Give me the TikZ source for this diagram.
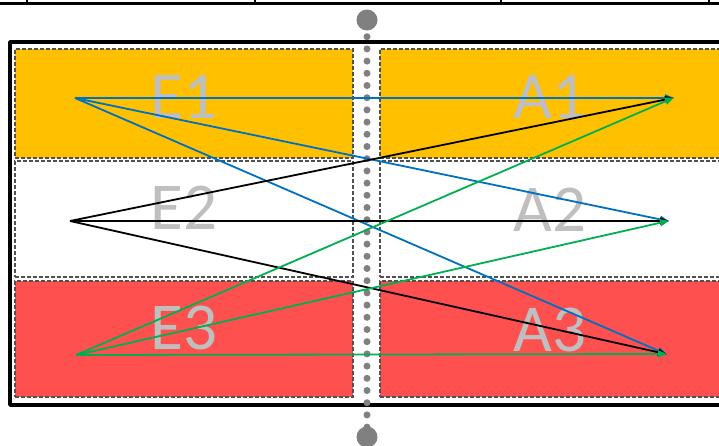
\documentclass[tikz,border=0pt]{standalone}
\usepackage{fontspec}
\setmainfont{Carlito}
\usetikzlibrary{arrows.meta}
\definecolor{orangeY}{HTML}{FFC000}
\definecolor{redR}{HTML}{FF5050}
\definecolor{blueL}{HTML}{0070C0}
\definecolor{greenL}{HTML}{00B050}
\definecolor{labelgray}{HTML}{BFBFBF}
\definecolor{dotgray}{HTML}{808080}
\definecolor{dashgray}{HTML}{505050}
\begin{document}
\begin{tikzpicture}[x=1pt,y=-1pt,
  cell/.style={draw=dashgray, dash pattern=on 4pt off 2pt, line width=1.2pt,
    inner sep=0pt, outer sep=0pt, anchor=north west},
  lbl/.style={text=labelgray, font=\fontsize{67}{67}\selectfont, anchor=base, inner sep=0pt},
  conn/.style={line width=1.8pt, -{Triangle[length=9pt,width=7pt]}, shorten >=-1pt},
  pt/.style={inner sep=0pt, outer sep=0pt}]
\useasboundingbox (0,0) rectangle (719,445);
\clip (0,0) rectangle (719,445);
\fill[white] (0,0) rectangle (719,445);
% top rule with ticks
\draw[line width=3.4pt] (0,3.4) -- (719,3.4);
\foreach \x in {27,255,501,709} \draw[line width=1.8pt] (\x,0) -- (\x,4);
% outer frame
\draw[line width=3.6pt, line join=round] (740,42) -- (10,42) -- (10,405) -- (740,405);
% row boxes
\node[cell, fill=orangeY, minimum width=338pt, minimum height=109pt] (b1l) at (15,49) {};
\node[cell, fill=orangeY, minimum width=350pt, minimum height=109pt] (b1r) at (380,49) {};
\node[cell, fill=white, minimum width=338pt, minimum height=116pt] (b2l) at (15,161) {};
\node[cell, fill=white, minimum width=350pt, minimum height=116pt] (b2r) at (380,161) {};
\node[cell, fill=redR, minimum width=338pt, minimum height=116pt] (b3l) at (15,281) {};
\node[cell, fill=redR, minimum width=350pt, minimum height=116pt] (b3r) at (380,281) {};
% dotted axis
\node[circle, fill=dotgray, minimum size=21pt, inner sep=0pt] (topc) at (367,20) {};
\node[circle, fill=dotgray, minimum size=21pt, inner sep=0pt] (botc) at (367,437) {};
\draw[dotgray, line width=7pt, line cap=round, dash pattern=on 0pt off 12.2pt] (topc.south) ++(0,6) -- ([yshift=-6pt]botc.north);
% labels
\node[lbl] (t1) at (184,118) {E1};
\node[lbl] (t2) at (184,229) {E2};
\node[lbl] (t3) at (184,349) {E3};
\node[lbl] (u1) at (550,118) {A1};
\node[lbl] (u2) at (550,231) {A2};
\node[lbl] (u3) at (550,351) {A3};
% end points
\coordinate (e1) at (75,98);
\coordinate (e2) at (70,221);
\coordinate (e3) at (76,355);
\coordinate (a1) at (673,98);
\coordinate (a2) at (668,221);
\coordinate (a3) at (666,354);
% connectors
\draw[conn, blueL] (e1) -- (a1);
\draw[conn, blueL] (e1) -- (a2);
\draw[conn, blueL] (e1) -- (a3);
\draw[conn, black] (e2) -- (a1);
\draw[conn, black] (e2) -- (a2);
\draw[conn, black] (e2) -- (a3);
\draw[conn, greenL] (e3) -- (a1);
\draw[conn, greenL] (e3) -- (a2);
\draw[conn, greenL] (e3) -- (a3);
\end{tikzpicture}
\end{document}
